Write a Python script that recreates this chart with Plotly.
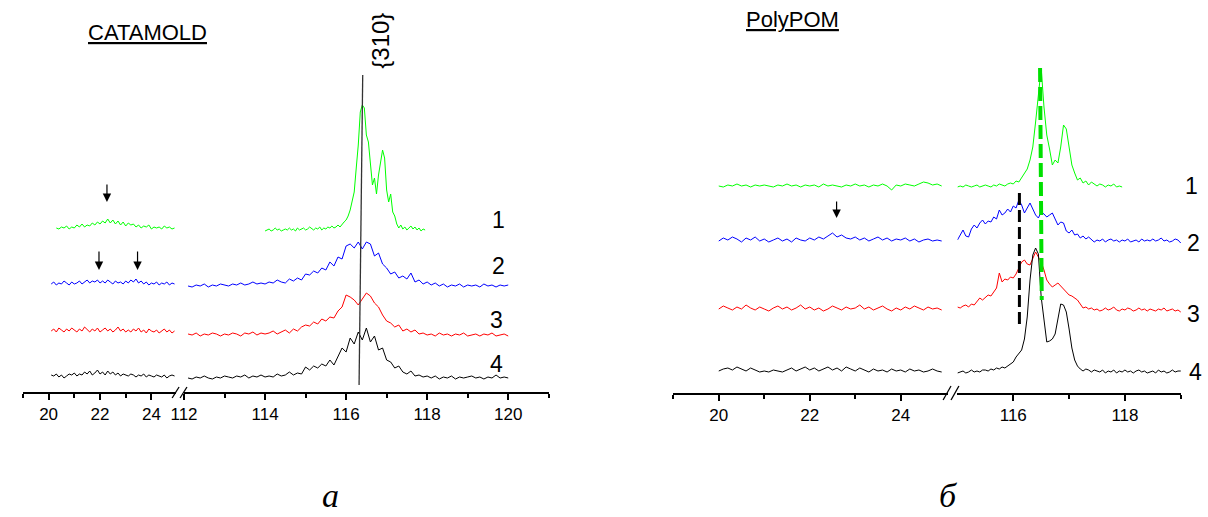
import plotly.graph_objects as go

W, H = 1208, 517


def grid(start, n, step):
    return [round(start + i * step, 2) for i in range(n)]


# ---------------- Panel a: CATAMOLD (2-theta, deg; intensity, a.u.) ----------------
a_x_left_green = grid(20.3, 47, 0.1)
a_x_left = grid(20.1, 49, 0.1)
a_x_right = grid(112.1, 80, 0.1)
a_x_right_green = grid(114.0, 80, 0.05)

a1_left = [2, 1, 3, 2, 4, 1, 3, 2, 5, 3,
           6, 3, 5, 4, 7, 5, 8, 6, 9, 7,
           11, 7, 10, 6, 9, 5, 8, 4, 7, 5,
           6, 3, 5, 2, 4, 3, 5, 1, 3, 2,
           3, 1, 4, 2, 3, 1, 2]
a1_right = [-1, 0, 1, -1, 0, 2, 0, 1, -1, 0,
            1, 0, 2, 0, 1, -1, 2, 0, 1, 2,
            0, 1, 3, 1, 0, 2, 1, 3, 0, 2,
            1, 3, 2, 4, 2, 3, 5, 3, 6, 8,
            10, 14, 20, 28, 38, 62, 85, 118, 125, 122,
            95, 88, 68, 45, 52, 36, 55, 66, 80, 72,
            40, 28, 36, 18, 14, 6, 2, 5, 1, 3,
            0, 2, 4, 1, 3, 0, 2, -1, 1, 0]

a2_left = [2, 4, 1, 3, 2, 5, 3, 1, 4, 2,
           3, 5, 2, 4, 6, 3, 5, 4, 6, 3,
           5, 3, 6, 4, 2, 5, 3, 4, 2, 5,
           3, 6, 4, 7, 3, 5, 2, 4, 1, 3,
           2, 4, 1, 3, 2, 4, 1, 3, 2]
a2_right = [0, -1, 1, 0, 2, -1, 1, 0, 2, 1,
            0, 2, 1, 3, 1, 2, 4, 2, 3, 2,
            4, 3, 6, 4, 3, 7, 5, 8, 6, 12,
            11, 15, 13, 18, 16, 24, 20, 29, 27, 40,
            42, 38, 44, 37, 44, 42, 30, 33, 22, 18,
            12, 14, 8, 10, 7, 13, 4, 6, 2, 4,
            1, 3, 0, 2, -1, 1, 0, 2, -1, 1,
            0, 1, -1, 2, 0, 1, -1, 1, 0, 1]

a3_left = [4, 6, 3, 7, 5, 3, 6, 4, 7, 5,
           3, 6, 4, 8, 5, 3, 6, 4, 7, 3,
           5, 7, 4, 6, 3, 5, 8, 4, 6, 3,
           5, 3, 6, 4, 7, 3, 5, 2, 6, 4,
           3, 5, 2, 4, 6, 3, 5, 2, 4]
a3_right = [1, 0, 2, -1, 1, 0, 2, 1, -1, 1,
            0, 2, 1, -1, 2, 1, 3, 0, 2, 1,
            2, 4, 1, 3, 5, 2, 6, 4, 8, 10,
            9, 13, 11, 16, 14, 18, 17, 24, 28, 40,
            38, 35, 30, 36, 42, 39, 32, 28, 20, 14,
            12, 8, 10, 4, 6, 3, 5, 1, 2, 0,
            1, -1, 2, 0, 1, -1, 1, 0, 2, -1,
            0, 1, -1, 1, 0, 2, -1, 0, 1, -1]

a4_left = [3, 2, 4, 1, 3, 0, 2, 4, 3, 5,
           2, 4, 3, 6, 4, 7, 3, 5, 8, 4,
           6, 3, 7, 4, 6, 3, 5, 2, 4, 3,
           2, 4, 3, 1, 3, 2, 4, 1, 3, 2,
           1, 3, 2, 1, 3, 0, 2, 3, 2]
a4_right = [0, -1, 1, 0, 2, 0, -1, 1, 0, 2,
            1, 0, 2, 1, 3, 0, 2, 1, 3, 1,
            2, 1, 4, 2, 3, 6, 3, 5, 4, 11,
            8, 12, 10, 14, 12, 18, 13, 22, 30, 26,
            40, 34, 46, 38, 50, 36, 42, 28, 30, 18,
            16, 10, 12, 6, 4, 7, 2, 3, 1, 2,
            0, 2, -1, 1, 0, 2, -1, 1, 0, 1,
            2, 0, 1, -1, 1, 0, 3, 0, 1, 0]

a_offsets = [162, 106, 57, 14]          # vertical stacking of curves 1..4
a_line310_x = [116.41, 116.32]
a_line310_y = [317, 7]

# ---------------- Panel б: PolyPOM ----------------
b_x_left = grid(20.0, 50, 0.1)
b_x_right = grid(115.0, 81, 0.05)
b_x_right_green = grid(115.0, 60, 0.05)

b1_left = [1, 0, 2, 1, 3, 1, 2, 0, 2, 1,
           2, 1, 0, 2, 1, 3, 1, 2, 0, 2,
           1, 2, 0, 3, 1, 2, 1, 0, 2, 1,
           3, 1, 2, 0, 2, 1, 3, 1, -3, 2,
           1, 3, 2, 1, 3, 5, 4, 2, 3, 1]
b1_right = [0, 1, 0, 2, 1, 0, 1, 2, 0, 1,
            2, 1, 0, 2, 1, 3, 2, 1, 3, 4,
            3, 6, 5, 9, 13, 18, 27, 40, 65, 95,
            119, 80, 52, 38, 22, 27, 24, 40, 62, 58,
            42, 22, 14, 7, 9, 4, 6, 2, 5, 3,
            1, 3, 2, 0, 2, 1, 3, 0, 1, 0]

b2_left = [0, 3, 1, 4, 2, -1, 3, 1, 4, 0,
           2, -1, 1, 3, 0, 2, -1, 3, 1, 0,
           3, 1, 4, 2, 5, 8, 4, 6, 3, 2,
           4, 1, 3, 0, 2, 4, 1, 3, 0, 2,
           1, 3, 0, 2, -1, 1, 2, 0, 1, 0]
b2_right = [1, 6, 11, 5, 4, 12, 16, 13, 18, 21,
            17, 20, 19, 24, 22, 31, 26, 28, 32, 29,
            35, 33, 41, 36, 28, 33, 38, 32, 26, 23,
            29, 27, 24, 26, 28, 22, 16, 19, 18, 10,
            8, 11, 6, 7, 3, 5, 2, 4, 1, -1,
            1, 0, 2, -1, 1, 2, 0, 1, -1, 1,
            0, 2, -1, 0, 1, -1, 2, 0, 1, 0,
            2, 0, 1, 3, 0, 1, -1, 0, 2, 1,
            -2]

b3_left = [1, 4, 2, 0, 3, 1, 5, 2, 0, 3,
           1, -1, 2, 4, 1, 3, 0, 2, 5, 1,
           3, 0, 2, -1, 1, 4, 2, 0, 3, 1,
           2, 5, 1, 3, 0, 2, 4, 1, -1, 2,
           0, 3, 1, 4, 2, 0, 3, 1, 2, 0]
b3_right = [3, 2, 4, 5, 3, 6, 5, 9, 12, 10,
            13, 15, 14, 18, 22, 37, 28, 31, 30, 33,
            32, 36, 43, 48, 50, 46, 45, 52, 58, 53,
            48, 40, 30, 26, 23, 25, 27, 24, 21, 17,
            15, 14, 12, 10, 6, 2, 3, 1, 2, 0,
            1, -1, 0, 2, 0, 1, 3, 0, -1, 1,
            0, 2, 1, -1, 0, 2, 0, 1, -1, 1,
            0, -1, 1, 0, 2, -1, 0, 1, -1, 0,
            -2]

b4_left = [1, 3, 4, 2, 5, 3, 1, 4, 2, 0,
           1, 0, 2, 1, 0, 2, 4, 1, 3, 5,
           2, 4, 1, 3, 5, 2, 4, 1, 5, 3,
           1, 4, 2, 0, 3, 1, 2, 0, 3, 1,
           2, 0, 3, 1, 2, 0, 1, 3, 1, 0]
b4_right = [-1, 0, 1, -1, 0, 2, 0, 1, 0, 2,
            2, 1, 3, 2, 4, 3, 5, 4, 6, 8,
            10, 15, 18, 22, 33, 55, 92, 117, 124, 118,
            75, 50, 30, 31, 33, 38, 55, 68, 67, 60,
            43, 24, 12, 6, 3, 1, 3, 2, 0, 2,
            1, 0, 2, -1, 1, 0, 2, -1, 1, 0,
            2, 0, 1, -1, 1, 2, 0, 1, -1, 0,
            1, -1, 2, 0, 1, -1, 0, 2, 0, 1,
            1]

b_offsets = [206, 152, 83, 21]
b_dash_black_x = [116.11, 116.11]
b_dash_black_y = [200, 68]
b_dash_green_x = [116.48, 116.51]
b_dash_green_y = [325, 93]

colors = ["#00ff00", "#0000ff", "#ff0000", "#000000"]
labels = ["1", "2", "3", "4"]

fig = go.Figure()


def add(x, vals, off, color, xa, ya):
    fig.add_trace(go.Scatter(x=x, y=[v + off for v in vals], mode="lines",
                             line=dict(color=color, width=1), xaxis=xa, yaxis=ya,
                             hoverinfo="skip"))


a_left = [a1_left, a2_left, a3_left, a4_left]
a_right = [a1_right, a2_right, a3_right, a4_right]
for i in range(4):
    xl = a_x_left_green if i == 0 else a_x_left
    xr = a_x_right_green if i == 0 else a_x_right
    add(xl, a_left[i], a_offsets[i], colors[i], "x", "y")
    add(xr, a_right[i], a_offsets[i], colors[i], "x2", "y")

b_left = [b1_left, b2_left, b3_left, b4_left]
b_right = [b1_right, b2_right, b3_right, b4_right]
for i in range(4):
    xr = b_x_right_green if i == 0 else b_x_right
    add(b_x_left, b_left[i], b_offsets[i], colors[i], "x3", "y2")
    add(xr, b_right[i], b_offsets[i], colors[i], "x4", "y2")

# {310} reference line
fig.add_trace(go.Scatter(x=a_line310_x, y=a_line310_y, mode="lines",
                         line=dict(color="#333333", width=1.3), xaxis="x2", yaxis="y",
                         hoverinfo="skip"))
# dashed lines in panel б
fig.add_trace(go.Scatter(x=b_dash_black_x, y=b_dash_black_y, mode="lines",
                         line=dict(color="#000000", width=3, dash="12px,5px"),
                         xaxis="x4", yaxis="y2", hoverinfo="skip"))
fig.add_trace(go.Scatter(x=b_dash_green_x, y=b_dash_green_y, mode="lines",
                         line=dict(color="#00e000", width=4, dash="14px,5px"),
                         xaxis="x4", yaxis="y2", hoverinfo="skip"))


def px(x):
    return x / W


def py(y):
    return 1 - y / H


tickfont = dict(family="Liberation Sans, Arial, sans-serif", size=17, color="black")
axcommon = dict(showline=True, linecolor="black", linewidth=1.5, ticks="outside",
                ticklen=6, tickwidth=1.5, tickcolor="black", showgrid=False,
                zeroline=False, tickfont=tickfont, tickmode="array", fixedrange=True,
                ticklabelstandoff=0)

fig.update_layout(
    width=W, height=H, margin=dict(l=0, r=0, t=0, b=0),
    paper_bgcolor="white", plot_bgcolor="white", showlegend=False,
    xaxis=dict(domain=[px(9), px(164)], range=[19, 24.96], tickvals=[20, 22, 24],
               minor=dict(tickvals=[19, 21, 23], ticklen=4, tickwidth=1.5, tickcolor="black", ticks="outside"),
               anchor="y", **axcommon),
    xaxis2=dict(domain=[px(172), px(541)], range=[112, 121],
                tickvals=[112, 114, 116, 118, 120],
                minor=dict(tickvals=[113, 115, 117, 119, 121], ticklen=4, tickwidth=1.5, tickcolor="black", ticks="outside"),
                anchor="y", **axcommon),
    xaxis3=dict(domain=[px(667), px(945)], range=[19, 25.04], tickvals=[20, 22, 24],
                minor=dict(tickvals=[19, 21, 23], ticklen=4, tickwidth=1.5, tickcolor="black", ticks="outside"),
                anchor="y2", **axcommon),
    xaxis4=dict(domain=[px(954.5), px(1181)], range=[115, 119.01], tickvals=[116, 118],
                minor=dict(tickvals=[117, 119], ticklen=4, tickwidth=1.5, tickcolor="black", ticks="outside"),
                anchor="y2", **axcommon),
    yaxis=dict(domain=[py(392), 1], range=[0, 392], visible=False, fixedrange=True),
    yaxis2=dict(domain=[py(393), 1], range=[0, 393], visible=False, fixedrange=True),
)

shapes = []
for (x0, y0, x1, y1) in [(160, 398, 167, 387), (168, 398, 175, 387),
                         (940, 400, 948, 386), (948, 400, 956, 386)]:
    shapes.append(dict(type="line", xref="paper", yref="paper", x0=px(x0), y0=py(y0),
                       x1=px(x1), y1=py(y1), line=dict(color="black", width=1.3)))
fig.update_layout(shapes=shapes)

ann = []
sans = "Liberation Sans, Arial, sans-serif"
C = dict(xref="paper", yref="paper", showarrow=False, xanchor="center", yanchor="middle")
# titles
ann.append(dict(text="<u>CATAMOLD</u>", x=px(135), y=py(32),
                font=dict(family=sans, size=22, color="black"), **C))
ann.append(dict(text="<u>PolyPOM</u>", x=px(788), y=py(20),
                font=dict(family=sans, size=22, color="black"), **C))
# {310}
ann.append(dict(text="{310}", x=px(370), y=py(41), textangle=-90,
                font=dict(family=sans, size=24, color="black"), **C))
# curve numbers
for lab, (xx, yy) in zip(labels, [(490, 220), (490, 266), (488, 320), (488, 364)]):
    ann.append(dict(text=lab, x=px(xx), y=py(yy),
                    font=dict(family=sans, size=23, color="black"), **C))
for lab, (xx, yy) in zip(labels, [(1191, 186), (1193, 243), (1193, 314), (1195, 372)]):
    ann.append(dict(text=lab, x=px(xx), y=py(yy),
                    font=dict(family=sans, size=23, color="black"), **C))
# panel letters
serif = "Liberation Serif, Times New Roman, serif"
B = dict(xref="paper", yref="paper", showarrow=False, xanchor="center", yanchor="bottom")
ann.append(dict(text="<i>a</i>", x=px(320), y=py(516),
                font=dict(family=serif, size=34, color="black"), **B))
ann.append(dict(text="<i>б</i>", x=px(945), y=py(516),
                font=dict(family=serif, size=34, color="black"), **B))
# arrows
for (xx, yy, xa, ya, ay) in [(22.27, 190, "x", "y", -19), (21.96, 122, "x", "y", -20),
                             (23.46, 122, "x", "y", -20), (22.59, 175, "x3", "y2", -18)]:
    ann.append(dict(x=xx, y=yy, xref=xa, yref=ya, ax=0, ay=ay, text="", showarrow=True,
                    arrowhead=2, arrowsize=1.4, arrowwidth=1.2, arrowcolor="black", standoff=0))
fig.update_layout(annotations=ann)

fig.write_html("out.html", config={"displayModeBar": False},
               post_script="document.body.style.margin='0px';document.body.style.overflow='hidden';")
